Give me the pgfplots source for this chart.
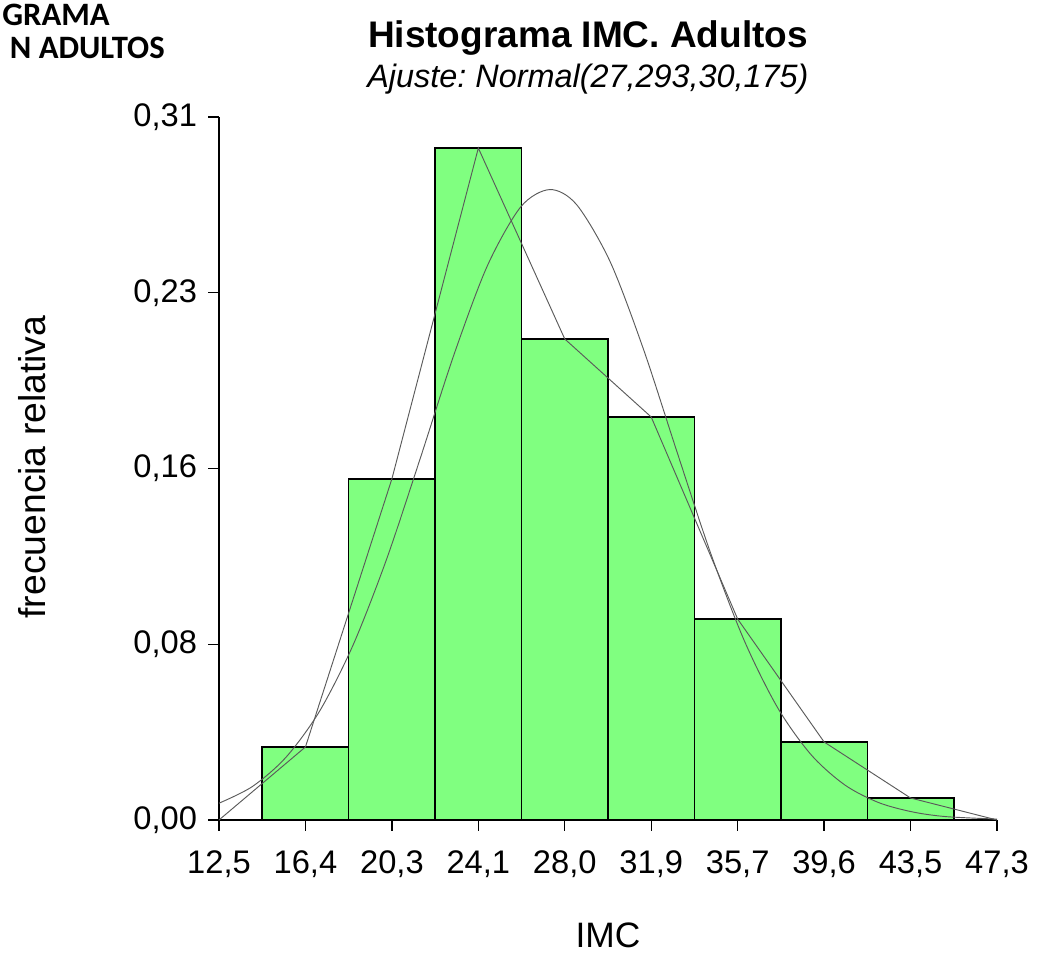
\documentclass[border=0pt]{standalone}
\usepackage{pgfplots}
\pgfplotsset{compat=1.18}
\usepackage{fontspec}
\setmainfont{Liberation Sans}
\newfontfamily\calibri{Carlito}
\definecolor{barfill}{HTML}{80FF80}
\definecolor{curvecol}{HTML}{5A5A5A}
\frenchspacing
\begin{document}
\begin{tikzpicture}[x=1pt,y=1pt]
\useasboundingbox (0,0) rectangle (788.25,720);
\begin{axis}[
  at={(164.25pt,105pt)}, anchor=south west,
  scale only axis, width=583.5pt, height=527.25pt,
  xmin=12.5, xmax=47.3, ymin=0, ymax=0.31,
  axis x line=bottom, axis y line=left,
  axis line style={-, line width=1pt, black},
  x axis line style={-}, y axis line style={-},
  tick align=outside, major tick length=8pt,
  tick style={line width=1pt, black},
  xtick={12.5,16.3667,20.2333,24.1,27.9667,31.8333,35.7,39.5667,43.4333,47.3},
  xticklabels={{12,5},{16,4},{20,3},{24,1},{28,0},{31,9},{35,7},{39,6},{43,5},{47,3}},
  ytick={0,0.0775,0.155,0.2325,0.31},
  yticklabels={{0,00},{0,08},{0,16},{0,23},{0,31}},
  ticklabel style={font=\fontsize{24.5}{28}\selectfont},
  xticklabel style={yshift=-11.5pt},
  yticklabel style={xshift=-5pt},
  clip=false,
]
\addplot[ybar, bar width=3.8667, fill=barfill, draw=black, line width=1.1pt] coordinates {
  (16.3667,0.0322) (20.2333,0.1504) (24.1,0.2963) (27.9667,0.2121)
  (31.8333,0.1777) (35.7,0.0886) (39.5667,0.0344) (43.4333,0.0097)};
\addplot[curvecol, line width=0.7pt, smooth] coordinates {
  (12.5,0.0074) (14,0.0148) (15.5,0.0277) (17,0.0480) (18.5,0.0772)
  (20,0.1151) (21.5,0.1594) (23,0.2049) (24.5,0.2443) (26,0.2704)
  (27.3,0.2780) (28.5,0.2713) (30,0.2461) (31.5,0.2072) (33,0.1619)
  (34.5,0.1174) (36,0.0790) (37.5,0.0493) (39,0.0286) (40.5,0.0154)
  (42,0.0077) (43.5,0.0036) (45,0.0015) (47.3,0.0004)};
\addplot[curvecol, line width=0.7pt] coordinates {
  (12.5,0) (16.3667,0.0322) (20.2333,0.1504) (24.1,0.2963) (27.9667,0.2121)
  (31.8333,0.1777) (35.7,0.0886) (39.5667,0.0344) (43.4333,0.0097) (47.3,0)};
\end{axis}
\node[anchor=base, font=\bfseries\fontsize{27.75}{33}\selectfont] at (441,684) {Histograma IMC. Adultos};
\node[anchor=base, font=\itshape\fontsize{24.3}{29}\selectfont] at (441,654) {Ajuste: Normal(27,293,30,175)};
\node[anchor=base, rotate=90, font=\fontsize{28}{33}\selectfont] at (34,369.75) {frecuencia relativa};
\node[anchor=base, font=\fontsize{26.5}{32}\selectfont] at (456,9) {IMC};
\node[anchor=base east, inner sep=0pt, font=\calibri\bfseries\fontsize{24.5}{29}\selectfont] at (82.5,701) {GRAMA};
\node[anchor=base east, inner sep=0pt, font=\calibri\bfseries\fontsize{24.5}{29}\selectfont] at (123.75,676) {N ADULTOS};
\end{tikzpicture}
\end{document}
